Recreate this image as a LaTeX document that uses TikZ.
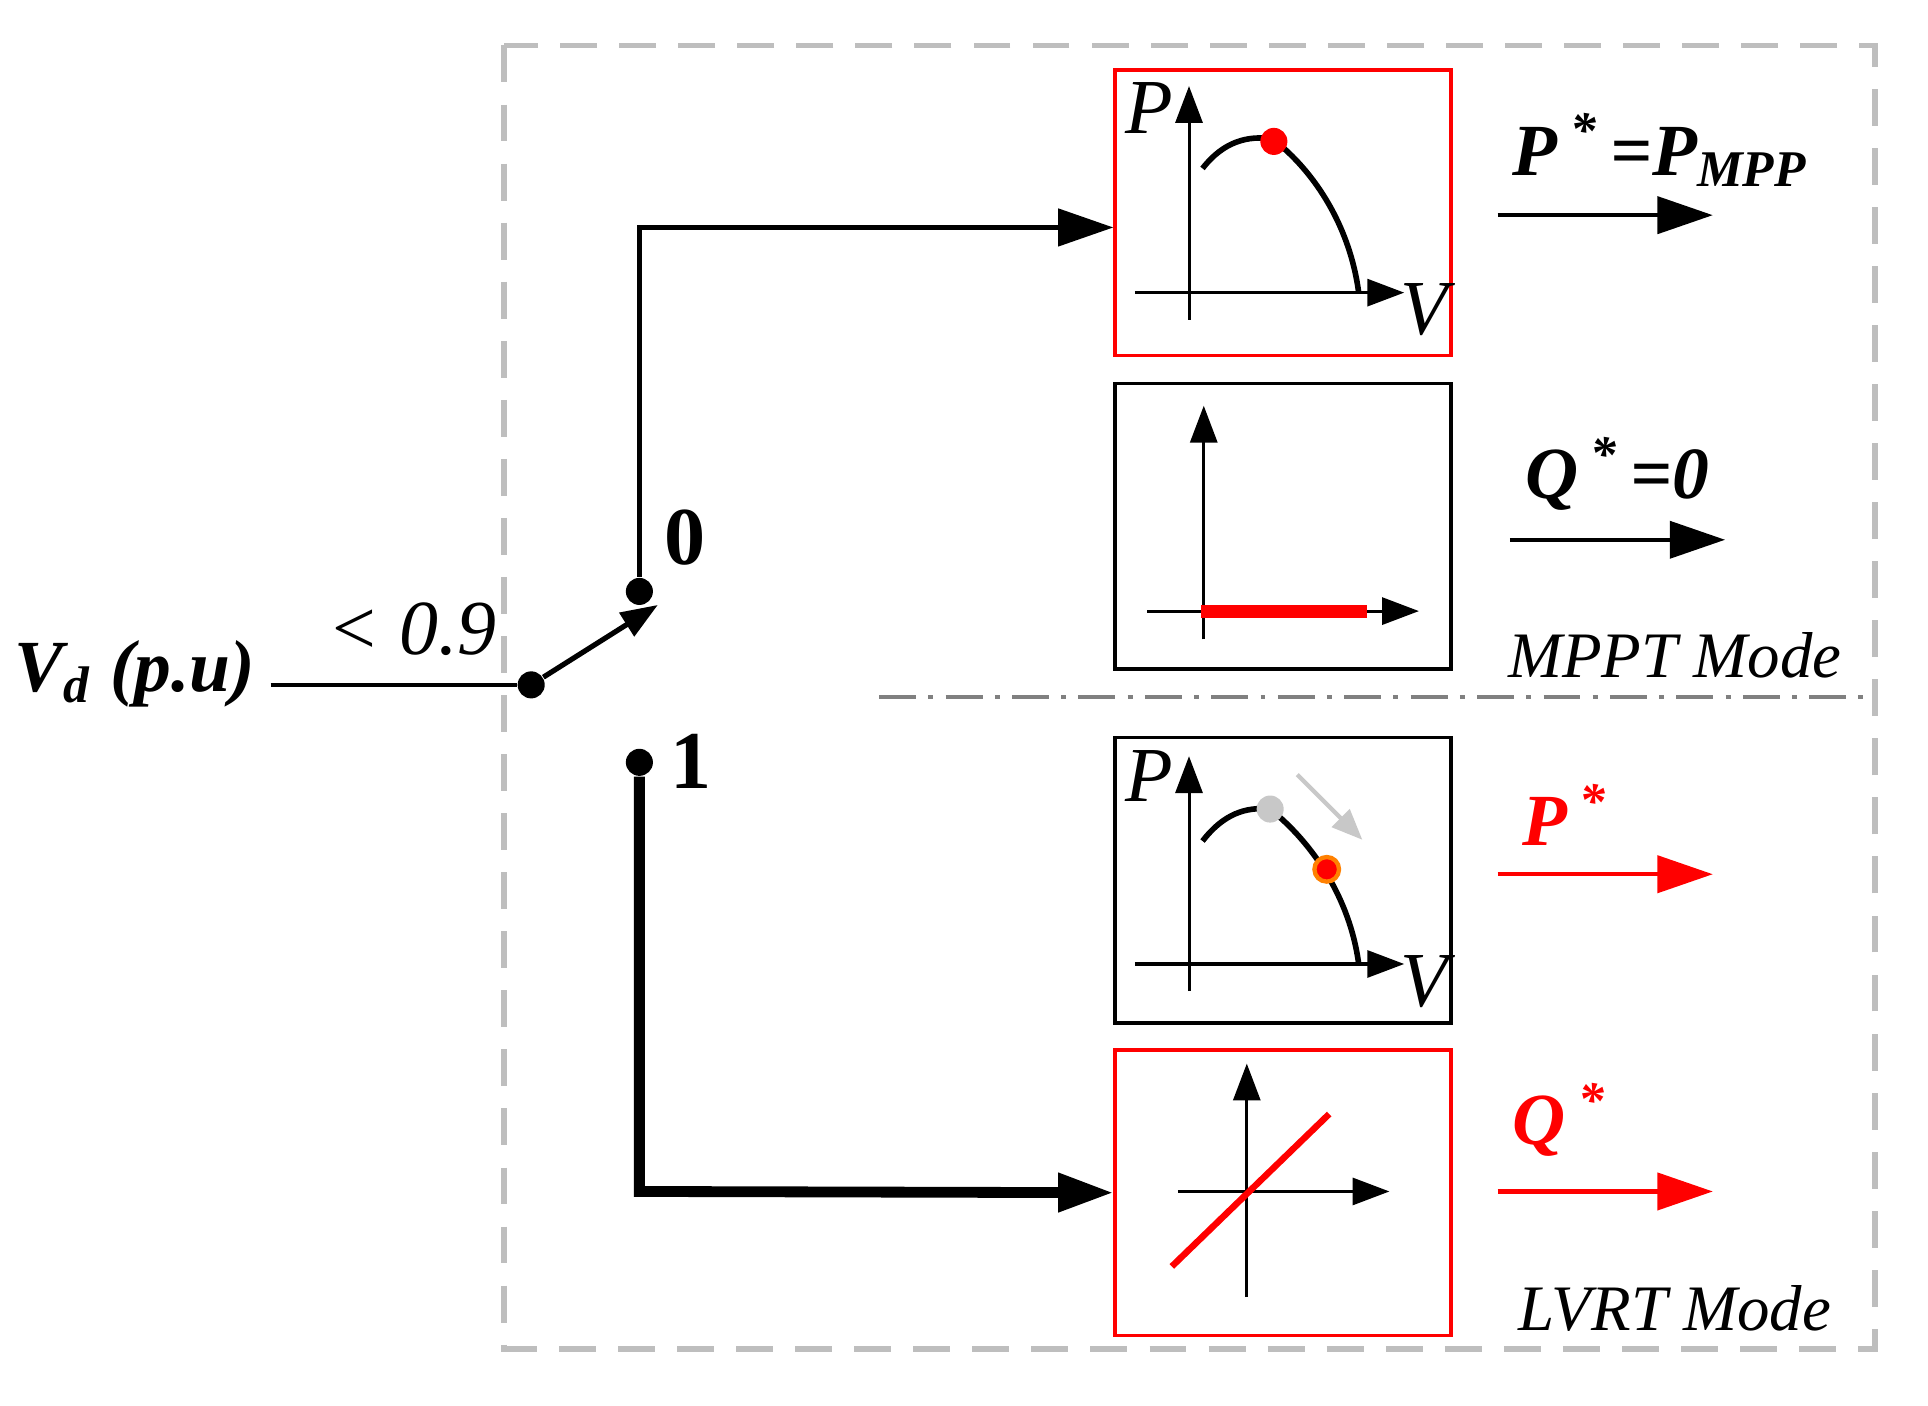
\documentclass[tikz,border=0pt]{standalone}
\usepackage{fontspec}
\setmainfont{Liberation Serif}
\usetikzlibrary{arrows.meta}
\definecolor{frame}{RGB}{190,190,190}
\definecolor{gdot}{RGB}{200,200,200}
\tikzset{
  big/.style={-{Triangle[length=0.45cm,width=0.3cm]}},
  ax/.style={line width=0.7pt,-{Triangle[length=0.3cm,width=0.22cm]}},
  panel/.style={draw,line width=0.8pt,minimum width=2.73cm,minimum height=2.32cm,inner sep=0pt},
  dot/.style={circle,fill=black,inner sep=0pt,minimum size=0.22cm},
  lbl/.style={font=\fontsize{17}{19}\selectfont\bfseries\itshape},
  axl/.style={font=\fontsize{18}{18}\selectfont\itshape}
}
\begin{document}
\begin{tikzpicture}[x=0.01cm,y=-0.01cm]
	\useasboundingbox (0,0) rectangle (1568,1143);
	% frame
	\draw[frame,line width=1.3pt,dash pattern=on 0.3cm off 0.18cm] (410,37) rectangle (1525,1097);
	\draw[gray,line width=1pt,dash pattern=on 0.3cm off 0.1cm on 0.04cm off 0.1cm] (715,567) -- (1515,567);

	% panels
	\node[panel,red] (b1) at (1043.5,173) {};
	\node[panel] (b2) at (1043.5,428) {};
	\node[panel] (b3) at (1043.5,716) {};
	\node[panel,red] (b4) at (1043.5,970) {};

	% P-V curve, MPPT
	\draw[ax] (967,260) -- (967,70);
	\draw[ax] (923,238) -- (1142,238);
	\node[axl] at (935,88) {P};
	\node[axl] at (1158,252) {V};
	\draw[line width=1.3pt] (978,137) .. controls (995,115) and (1015,110) .. (1035,113)
		.. controls (1070,140) and (1098,185) .. (1105,238);
	\fill[red] (1036,115) circle (0.11cm);

	% Q=0
	\draw[ax] (979,520) -- (979,330);
	\draw[ax] (933,497) -- (1154,497);
	\draw[red,line width=3pt] (977,497) -- (1112,497);

	% P-V curve, LVRT
	\draw[ax] (967,806) -- (967,615);
	\draw[ax] (923,784) -- (1142,784);
	\node[axl] at (935,631) {P};
	\node[axl] at (1158,798) {V};
	\draw[line width=1.3pt] (978,684) .. controls (995,662) and (1013,656) .. (1033,658)
		.. controls (1068,686) and (1098,731) .. (1105,784);
	\fill[gdot] (1033,658) circle (0.11cm);
	\draw[orange,fill=red,line width=1pt] (1079,707) circle (0.1cm);
	\draw[gdot,line width=1pt,-{Triangle[length=0.25cm,width=0.2cm]}] (1055,630) -- (1108,683);

	% Q-V line
	\draw[ax] (1014,1055) -- (1014,865);
	\draw[ax] (958,969) -- (1130,969);
	\draw[red,line width=1.5pt] (953,1030) -- (1081,906);

	% outputs
	\node[lbl,anchor=west] (pref) at (1218,122) {P\,\textsuperscript{*}\,=P\textsubscript{MPP}};
	\draw[big,line width=1pt] (1218,175) -- (1393,175);
	\node[lbl,anchor=west] (qref) at (1228,385) {Q\,\textsuperscript{*}\,=0};
	\draw[big,line width=1pt] (1228,439) -- (1403,439);
	\node[font=\fontsize{15}{17}\selectfont\itshape] (mppt) at (1362,533) {MPPT Mode};
	\node[lbl,red,anchor=west] (plv) at (1226,663) {P\,\textsuperscript{*}};
	\draw[big,red,line width=1pt] (1218,711) -- (1393,711);
	\node[lbl,red,anchor=west] (qlv) at (1218,911) {Q\,\textsuperscript{*}};
	\draw[big,red,line width=1pt] (1218,969) -- (1393,969);
	\node[font=\fontsize{15}{17}\selectfont\itshape] (lvrt) at (1362,1064) {LVRT Mode};

	% switch
	\node[lbl,anchor=east] (vd) at (220,548) {V\textsubscript{d} (p.u)};
	\node[dot] (s) at (432,557) {};
	\node[dot] (s0) at (520,481) {};
	\node[dot] (s1) at (520,620) {};
	\coordinate (sw) at (535,492);
	\coordinate (c0) at (520,185);
	\coordinate (c1) at (520,969);
	\node[axl] at (335,512) {< 0.9};
	\node[font=\fontsize{19}{19}\selectfont\bfseries] at (557,437) {0};
	\node[font=\fontsize{19}{19}\selectfont\bfseries] at (562,619) {1};
	\draw[line width=1pt] (vd.east |- s) -- (s);
	\draw[line width=1.2pt,-{Triangle[length=0.3cm,width=0.22cm]}] (s) -- (sw);
	\draw[big,line width=1.2pt] (s0) -- (c0) -- (b1.west |- c0);
	\draw[big,line width=2.5pt] (s1) -- (c1) -- (b4.west);
\end{tikzpicture}
\end{document}
